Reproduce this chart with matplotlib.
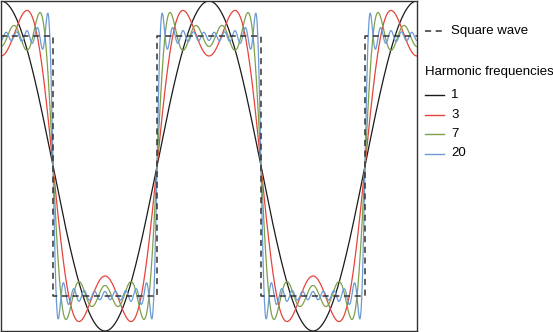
import numpy as np
import matplotlib
matplotlib.use("Agg")
import matplotlib.pyplot as plt
from matplotlib.lines import Line2D

# harmonic counts shown in the legend (odd harmonics up to this number)
harmonics = [1, 3, 7, 20]
colors = ["#1a1a1a", "#e5443a", "#7fa04a", "#6c9bd4"]
sq_levels = [1, -1]          # square wave high / low
n_periods = 2

plt.rcParams['font.family'] = ['Liberation Sans', 'DejaVu Sans']

W, H = 553, 332
fig = plt.figure(figsize=(W / 100, H / 100), dpi=100)
ax = fig.add_axes([1 / W, 1 / H, 416 / W, 330 / H])

t = np.linspace(0, 2 * np.pi * n_periods, 1200)

def partial_sum(t, nmax):
    s = np.zeros_like(t)
    for k in range(1, nmax + 1, 2):
        s += (-1) ** ((k - 1) // 2) * np.cos(k * t) / k
    return 4 / np.pi * s

# square wave as steps
edges = np.arange(0, 2 * n_periods + 1) * np.pi + np.pi / 2
xs = [0.0]
ys = [sq_levels[0]]
lvl = 0
for e in edges:
    if e > t[-1]:
        break
    xs += [e, e]
    ys += [sq_levels[lvl], sq_levels[1 - lvl]]
    lvl = 1 - lvl
xs.append(t[-1])
ys.append(sq_levels[lvl])

for n, c in zip(harmonics, colors):
    ax.plot(t, partial_sum(t, n), color=c, lw=0.9)
ax.plot(xs, ys, color="#333333", lw=1.1, ls=(0, (4, 3)))

ax.set_xlim(0, t[-1])
ax.set_ylim(-4 / np.pi, 4 / np.pi)
ax.set_xticks([])
ax.set_yticks([])
for s in ax.spines.values():
    s.set_color("#333333")
    s.set_linewidth(1.0)

# legend drawn on figure
def fx(px):
    return px / W

def fy(py):
    return 1 - py / H

fig.add_artist(Line2D([fx(425), fx(444)], [fy(31), fy(31)], color="#333333",
                      lw=1.1, ls=(0, (4, 3))))
fig.text(fx(451), fy(31), "Square wave", fontsize=9.5, va="center")
fig.text(fx(425), fy(72), "Harmonic frequencies", fontsize=9.5, va="center")
for i, (n, c) in enumerate(zip(harmonics, colors)):
    yy = 95 + i * 19.5
    fig.add_artist(Line2D([fx(425), fx(444)], [fy(yy), fy(yy)], color=c, lw=1.0))
    fig.text(fx(451), fy(yy), str(n), fontsize=9.5, va="center")

fig.savefig("out.png", dpi=100)
